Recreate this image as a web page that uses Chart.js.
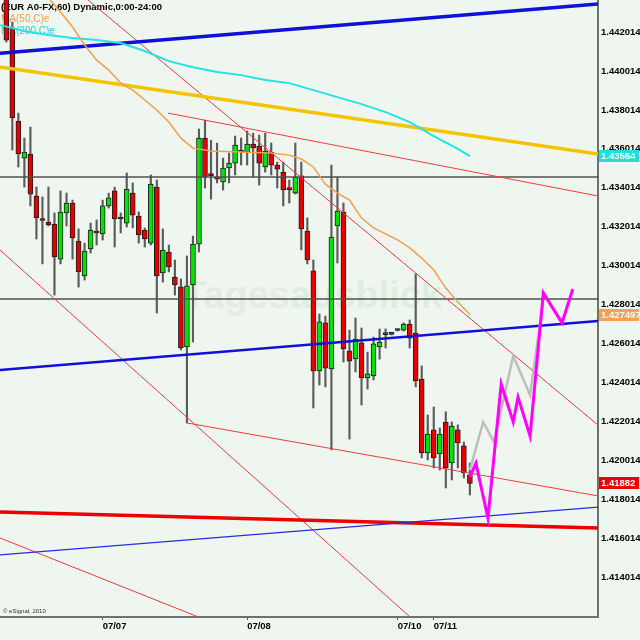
<!DOCTYPE html>
<html>
<head>
<meta charset="utf-8">
<script src="https://cdn.jsdelivr.net/npm/chart.js@4.4.1/dist/chart.umd.min.js"></script>
<style>
html, body { margin: 0; padding: 0; background: #eff6ef; }
#wrap { width: 640px; height: 640px; }
</style>
</head>
<body>
<div id="wrap"><canvas id="c" width="640" height="640"></canvas></div>
<script>
// hourly candles, bar index 1..78
var firstBar = 1;
var opens = [1.44443,1.44222,1.43744,1.43554,1.43575,1.43359,1.43238,1.43225,1.43215,1.43035,
  1.43272,1.43323,1.43128,1.42948,1.43087,1.43179,1.43164,1.43308,1.43385,1.43251,
  1.43220,1.43374,1.43256,1.43184,1.43117,1.43405,1.42964,1.43071,1.42943,1.42892,
  1.42583,1.42902,1.43112,1.43657,1.43467,1.43456,1.43431,1.43503,1.43528,1.43595,
  1.43585,1.43626,1.43616,1.43508,1.43585,1.43518,1.43482,1.43395,1.43374,1.43462,
  1.43179,1.42974,1.42460,1.42707,1.42470,1.43205,1.43277,1.42563,1.42522,1.42604,
  1.42424,1.42434,1.42583,1.42650,1.42650,1.42670,1.42670,1.42701,1.42655,1.42419,
  1.42039,1.42157,1.42034,1.42198,1.41987,1.42157,1.42075,1.41926];
var highs = [1.44469,1.44253,1.43785,1.43657,1.43713,1.43405,1.43354,1.43405,1.43272,1.43385,
  1.43374,1.43338,1.43190,1.43117,1.43220,1.43236,1.43338,1.43374,1.43405,1.43272,
  1.43477,1.43426,1.43277,1.43195,1.43467,1.43441,1.43190,1.43107,1.43030,1.42933,
  1.43051,1.43153,1.43703,1.43749,1.43646,1.43631,1.43554,1.43580,1.43667,1.43657,
  1.43693,1.43682,1.43672,1.43682,1.43631,1.43533,1.43533,1.43441,1.43631,1.43533,
  1.43246,1.43030,1.42753,1.42742,1.43518,1.43456,1.43323,1.42670,1.42732,1.42681,
  1.42557,1.42634,1.42676,1.42676,1.42655,1.42676,1.42707,1.42722,1.42958,1.42486,
  1.42234,1.42275,1.42167,1.42250,1.42198,1.42183,1.42095,1.41987];
var lows = [1.44150,1.43595,1.43508,1.43405,1.43308,1.43138,1.43010,1.43205,1.42850,1.43010,
  1.43205,1.43035,1.42891,1.42927,1.43066,1.43107,1.43133,1.43297,1.43097,1.43169,
  1.43200,1.43195,1.43117,1.43097,1.43107,1.42758,1.42917,1.42969,1.42850,1.42568,
  1.42193,1.42609,1.43071,1.43400,1.43343,1.43426,1.43390,1.43426,1.43467,1.43518,
  1.43518,1.43456,1.43415,1.43482,1.43467,1.43400,1.43308,1.43323,1.43369,1.43082,
  1.43010,1.42270,1.42388,1.42378,1.42054,1.43015,1.42506,1.42110,1.42455,1.42285,
  1.42367,1.42414,1.42521,1.42578,1.42645,1.42665,1.42665,1.42578,1.42378,1.42013,
  1.42003,1.41962,1.41951,1.41859,1.41900,1.41962,1.41910,1.41823];
var closes = [1.44160,1.43760,1.43575,1.43585,1.43369,1.43246,1.43233,1.43210,1.43046,1.43277,
  1.43323,1.43143,1.42969,1.43076,1.43184,1.43169,1.43308,1.43349,1.43241,1.43241,
  1.43395,1.43261,1.43159,1.43138,1.43420,1.42948,1.43081,1.42994,1.42902,1.42578,
  1.42897,1.43112,1.43657,1.43456,1.43464,1.43446,1.43503,1.43528,1.43621,1.43585,
  1.43626,1.43606,1.43528,1.43590,1.43518,1.43497,1.43390,1.43392,1.43456,1.43190,
  1.43030,1.42460,1.42712,1.42475,1.43148,1.43282,1.42573,1.42511,1.42624,1.42424,
  1.42445,1.42599,1.42609,1.42647,1.42648,1.42668,1.42701,1.42629,1.42409,1.42039,
  1.42136,1.42013,1.42136,1.41962,1.42177,1.42090,1.41936,1.41882];

// moving averages
var ma200Idx = [0,4,8,12,16,20,24,28,32,36,40,44,48,52,56,60,64,68,72,76,78];
var ma200 = [1.44237,1.44207,1.44186,1.44171,1.44160,1.44145,1.44104,1.44052,1.44021,1.43996,
  1.43980,1.43955,1.43939,1.43903,1.43867,1.43831,1.43790,1.43739,1.43667,1.43601,1.43564];
var ma50Idx = [6,8,10,12,14,16,18,20,22,24,26,28,30,32,35,40,45,48,50,52,54,56,58,60,62,64,66,68,70,72,74,76,78];
var ma50 = [1.44453,1.44376,1.44304,1.44227,1.44135,1.44057,1.44006,1.43939,1.43903,1.43852,
  1.43800,1.43739,1.43656,1.43605,1.43590,1.43585,1.43580,1.43569,1.43549,1.43508,
  1.43420,1.43374,1.43338,1.43246,1.43195,1.43164,1.43133,1.43092,1.43040,1.42979,
  1.42886,1.42814,1.427497];

// projected paths
var projMagentaIdx = [78,79,81,83.2,85.2,86,88,90.2,93.3,95.1];
var projMagenta = [1.41915,1.41987,1.41704,1.42393,1.42198,1.42326,1.42126,1.42861,1.42707,1.42881];
var projGreyIdx = [78,80.2,82,85.2,88,90.2];
var projGrey = [1.41951,1.42198,1.42095,1.42537,1.42337,1.42825];

// drawn trendlines: [bar index, price] end points
var blueTopLine = [[-0.05, 1.44093], [99.28, 1.44345]];
var goldLine = [[-0.05, 1.44022], [99.28, 1.43575]];
var blueMidLine = [[-0.05, 1.42465], [99.28, 1.42717]];
var blueLowLine = [[-0.05, 1.41515], [99.28, 1.41761]];
var redThickLine = [[-0.05, 1.41736], [99.28, 1.41653]];
var redUpperLine = [[27.86, 1.43785], [99.28, 1.43359]];
var redDiagA = [[14.57, 1.44366], [99.28, 1.42182]];
var redDiagB = [[-0.05, 1.43081], [69.72, 1.41150]];
var redChannelLow = [[31, 1.42193], [99.28, 1.41818]];
var redBottomLeft = [[-0.05, 1.41602], [35.83, 1.41160]];
var levelHigh = [[-0.05, 1.43457], [99.28, 1.43457]];
var levelLow = [[-0.05, 1.42830], [99.28, 1.42830]];

// axes
var xMin = -0.05, xMax = 99.28;
var yMin = 1.41196, yMax = 1.44366;
var yTicks = [1.414014,1.416014,1.418014,1.420014,1.422014,1.424014,1.426014,
  1.428014,1.430014,1.432014,1.434014,1.436014,1.438014,1.440014,1.442014];
var xTickIdx = [17, 41, 66, 72];
var xTickLabels = ['07/07', '07/08', '07/10', '07/11'];

var FONT = '"Liberation Sans", Arial, sans-serif';

var wicks = [], bodies = [], bodyColors = [];
for (var i = 0; i < opens.length; i++) {
  var k = firstBar + i;
  wicks.push({x: k, y: [lows[i], highs[i]]});
  bodies.push({x: k, y: [opens[i], closes[i]]});
  bodyColors.push(closes[i] > opens[i] ? '#00e400' : '#e80000');
}

function pairs(idx, vals) {
  return idx.map(function(x, j) { return {x: x, y: vals[j]}; });
}
function trend(pts) {
  return pts.map(function(p) { return {x: p[0], y: p[1]}; });
}
function lineSet(data, color, width, order) {
  return {type: 'line', data: data, borderColor: color, borderWidth: width,
    pointRadius: 0, fill: false, tension: 0, order: order};
}

var overlay = {
  id: 'overlay',
  beforeDraw: function(chart) {
    var ctx = chart.ctx;
    ctx.save();
    ctx.fillStyle = '#eff6ef';
    ctx.fillRect(0, 0, chart.width, chart.height);
    ctx.restore();
  },
  beforeDatasetsDraw: function(chart) {
    var ctx = chart.ctx;
    ctx.save();
    // watermark
    ctx.font = 'bold 38px ' + FONT;
    ctx.textBaseline = 'alphabetic';
    ctx.fillStyle = 'rgba(120,130,120,0.09)';
    ctx.fillText('Tages', 183, 308);
    var w = ctx.measureText('Tages').width;
    ctx.fillStyle = 'rgba(60,170,60,0.09)';
    ctx.fillText('ausblick', 183 + w, 308);
    // header
    ctx.textBaseline = 'middle';
    ctx.font = 'bold 9.5px ' + FONT;
    ctx.fillStyle = '#000';
    ctx.fillText('(EUR A0-FX,60) Dynamic,0:00-24:00', 1, 7);
    ctx.font = '10px ' + FONT;
    ctx.fillStyle = '#f0a050';
    ctx.fillText('MA(50,C)e', 1, 19);
    ctx.fillStyle = '#20d8d8';
    ctx.fillText('MA(200,C)e', 1, 31);
    ctx.restore();
  },
  afterDraw: function(chart) {
    var ctx = chart.ctx, y = chart.scales.y, a = chart.chartArea;
    ctx.save();
    ctx.font = '6px ' + FONT;
    ctx.fillStyle = '#333';
    ctx.textBaseline = 'alphabetic';
    ctx.fillText('\u00a9 eSignal, 2010', 3, a.bottom - 4);
    var tags = [
      [ma200[ma200.length - 1], '#22dede'],
      [ma50[ma50.length - 1], '#f2a254'],
      [closes[closes.length - 1], '#ec0000']
    ];
    ctx.font = 'bold 9.5px ' + FONT;
    ctx.textBaseline = 'middle';
    tags.forEach(function(t) {
      var py = Math.round(y.getPixelForValue(t[0]));
      ctx.fillStyle = t[1];
      ctx.fillRect(a.right + 1, py - 6, chart.width - a.right - 2, 12);
      ctx.fillStyle = '#fff';
      ctx.fillText(String(t[0]), a.right + 3, py + 0.5);
    });
    ctx.restore();
  }
};

new Chart(document.getElementById('c'), {
  type: 'bar',
  data: {
    datasets: [
      {type: 'bar', data: wicks, backgroundColor: '#5c5c5c', barThickness: 1.5,
        grouped: false, order: 20},
      {type: 'bar', data: bodies, backgroundColor: bodyColors, borderColor: '#1e1e1e',
        borderWidth: 1, borderSkipped: false, barThickness: 5, minBarLength: 2,
        grouped: false, order: 19},
      lineSet(trend(levelHigh), '#505050', 1.5, 8),
      lineSet(trend(levelLow), '#505050', 1.5, 8),
      lineSet(trend(redUpperLine), '#f03c3c', 1, 7),
      lineSet(trend(redDiagA), '#f03c3c', 1, 7),
      lineSet(trend(redDiagB), '#f03c3c', 1, 7),
      lineSet(trend(redChannelLow), '#f03c3c', 1, 7),
      lineSet(trend(redBottomLeft), '#f03c3c', 1, 7),
      lineSet(trend(blueLowLine), '#2a2ae0', 1.2, 6),
      lineSet(trend(blueMidLine), '#1010d8', 2.5, 6),
      lineSet(trend(blueTopLine), '#1010d8', 3.5, 6),
      lineSet(trend(goldLine), '#f4c400', 3.5, 6),
      lineSet(trend(redThickLine), '#ec0000', 3.5, 6),
      lineSet(pairs(ma50Idx, ma50), '#f4a04c', 1.5, 4),
      lineSet(pairs(ma200Idx, ma200), '#22e4e4', 2, 4),
      lineSet(pairs(projGreyIdx, projGrey), '#bdbdbd', 2.5, 2),
      lineSet(pairs(projMagentaIdx, projMagenta), '#ff00ff', 3, 1)
    ]
  },
  options: {
    responsive: false,
    animation: false,
    events: [],
    layout: {padding: 0},
    plugins: {legend: {display: false}, tooltip: {enabled: false}},
    scales: {
      x: {
        type: 'linear', min: xMin, max: xMax, offset: false,
        grid: {offset: false, drawOnChartArea: false, drawTicks: true, tickLength: 3, color: '#555'},
        border: {display: true, color: '#707070', width: 2},
        ticks: {
          autoSkip: false, maxRotation: 0, align: 'start', padding: 1, color: '#000',
          font: {family: FONT, size: 9.5, weight: 'bold'},
          callback: function(v) {
            var j = xTickIdx.indexOf(v);
            return j >= 0 ? xTickLabels[j] : '';
          }
        },
        afterBuildTicks: function(s) {
          s.ticks = xTickIdx.map(function(v) { return {value: v}; });
        },
        afterFit: function(s) { s.height = 23; s.paddingLeft = 0; s.paddingRight = 0; }
      },
      y: {
        type: 'linear', position: 'right', min: yMin, max: yMax,
        grid: {display: false, drawTicks: false},
        border: {display: true, color: '#707070', width: 2},
        ticks: {
          padding: 3, color: '#000',
          font: {family: FONT, size: 9.5, weight: 'bold'},
          callback: function(v) { return v.toFixed(6); }
        },
        afterBuildTicks: function(s) {
          s.ticks = yTicks.map(function(v) { return {value: v}; });
        },
        afterFit: function(s) { s.width = 42; s.paddingTop = 0; s.paddingBottom = 0; }
      }
    }
  },
  plugins: [overlay]
});
</script>
</body>
</html>
